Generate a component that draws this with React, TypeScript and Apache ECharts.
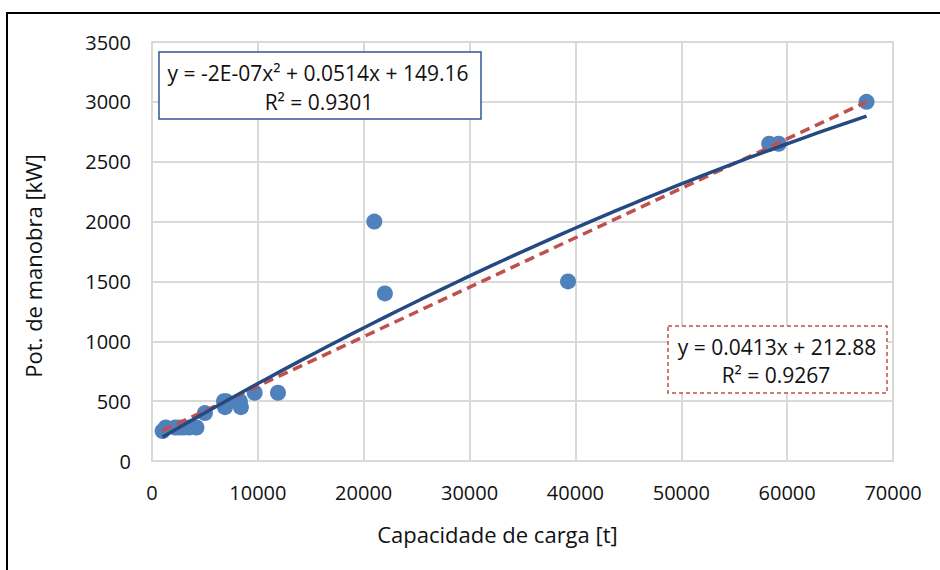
import React, { useEffect, useRef } from "react";
import * as echarts from "echarts";

const capacity = [1000, 1300, 2200, 2600, 3000, 3500, 4200, 5000, 6800, 7000, 6900, 8300, 8400, 9700, 11900, 21000, 22000, 39300, 58300, 59200, 67500];
const power = [250, 280, 280, 280, 280, 280, 280, 400, 500, 500, 450, 500, 450, 570, 570, 2000, 1400, 1500, 2650, 2650, 3000];

// Trendline coefficients as shown on the chart (quadratic term read more precisely than the rounded label)
const polyCoef = [149.16, 0.0514, -1.62e-7];
const linCoef = [212.88, 0.0413];

const polyLabel = ["y = -2E-07x² + 0.0514x + 149.16", "R² = 0.9301"];
const linLabel = ["y = 0.0413x + 212.88", "R² = 0.9267"];

const xTitle = "Capacidade de carga [t]";
const yTitle = "Pot. de manobra [kW]";

function trendlines() {
  const xmin = Math.min(...capacity);
  const xmax = Math.max(...capacity);
  const poly: number[][] = [];
  const steps = 60;
  for (let i = 0; i <= steps; i++) {
    const x = xmin + ((xmax - xmin) * i) / steps;
    poly.push([x, polyCoef[0] + polyCoef[1] * x + polyCoef[2] * x * x]);
  }
  const lin = [
    [xmin, linCoef[0] + linCoef[1] * xmin],
    [xmax, linCoef[0] + linCoef[1] * xmax],
  ];
  return { poly, lin };
}

export default function App() {
  const ref = useRef<HTMLDivElement>(null);
  useEffect(() => {
    if (!ref.current) return;
    const chart = echarts.init(ref.current, null, { renderer: "svg" });
    const { poly, lin } = trendlines();
    const font = "Open Sans";
    const txt = "#111";
    chart.setOption({
      animation: false,
      backgroundColor: "#fff",
      textStyle: { fontFamily: font },
      grid: {
        left: 152,
        right: 47,
        top: 42,
        bottom: 109,
        show: true,
        borderColor: "#D9D9D9",
        borderWidth: 2,
      },
      xAxis: {
        type: "value",
        min: 0,
        max: 70000,
        interval: 10000,
        name: xTitle,
        nameLocation: "middle",
        nameGap: 62,
        nameTextStyle: { fontSize: 22, color: txt, fontFamily: font, padding: [0, 50, 0, 0] },
        axisLine: { show: true, lineStyle: { color: "#D9D9D9", width: 2 } },
        axisTick: { show: false },
        axisLabel: { fontSize: 20, color: txt, margin: 21, fontFamily: font, formatter: (v: number) => String(v) },
        splitLine: { show: true, lineStyle: { color: "#D9D9D9", width: 2 } },
      },
      yAxis: {
        type: "value",
        min: 0,
        max: 3500,
        interval: 500,
        name: yTitle,
        nameLocation: "middle",
        nameGap: 108,
        nameRotate: 90,
        nameTextStyle: { fontSize: 22, color: txt, fontFamily: font, padding: [0, 29, 0, 0] },
        axisLine: { show: true, lineStyle: { color: "#D9D9D9", width: 2 } },
        axisTick: { show: false },
        axisLabel: { fontSize: 20, color: txt, margin: 21, fontFamily: font, formatter: (v: number) => String(v) },
        splitLine: { show: true, lineStyle: { color: "#D9D9D9", width: 2 } },
      },
      series: [
        {
          type: "scatter",
          data: capacity.map((x, i) => [x, power[i]]),
          symbolSize: 16,
          itemStyle: { color: "#4F81BD", opacity: 1 },
          z: 2,
        },
        {
          type: "line",
          data: lin,
          showSymbol: false,
          symbol: "none",
          lineStyle: { color: "#C0504D", width: 3.5, type: [10, 6] },
          z: 3,
        },
        {
          type: "line",
          data: poly,
          showSymbol: false,
          symbol: "none",
          lineStyle: { color: "#254A82", width: 3.5 },
          z: 4,
        },
      ],
      graphic: [
        {
          type: "rect",
          shape: { x: 7, y: 13, width: 1000, height: 1000 },
          style: { fill: "none", stroke: "#000", lineWidth: 2 },
          silent: true,
          z: 100,
        },
        {
          type: "rect",
          shape: { x: 159, y: 52, width: 322, height: 67 },
          style: { fill: "#fff", stroke: "#2E5597", lineWidth: 1.5 },
          z: 50,
        },
        {
          type: "text",
          x: 318,
          y: 73,
          style: { text: polyLabel[0], fontSize: 21, fontFamily: font, fill: txt, align: "center", verticalAlign: "middle" },
          z: 51,
        },
        {
          type: "text",
          x: 319,
          y: 102,
          style: { text: polyLabel[1], fontSize: 21, fontFamily: font, fill: txt, align: "center", verticalAlign: "middle" },
          z: 51,
        },
        {
          type: "rect",
          shape: { x: 668, y: 326, width: 219, height: 67 },
          style: { fill: "#fff", stroke: "#C0504D", lineWidth: 1.5, lineDash: [4, 3] },
          z: 50,
        },
        {
          type: "text",
          x: 777,
          y: 347,
          style: { text: linLabel[0], fontSize: 21, fontFamily: font, fill: txt, align: "center", verticalAlign: "middle" },
          z: 51,
        },
        {
          type: "text",
          x: 776,
          y: 375,
          style: { text: linLabel[1], fontSize: 21, fontFamily: font, fill: txt, align: "center", verticalAlign: "middle" },
          z: 51,
        },
      ],
    });
    return () => chart.dispose();
  }, []);
  return (
    <div
      ref={ref}
      style={{ position: "absolute", left: 0, top: 0, width: 940, height: 570 }}
    />
  );
}
